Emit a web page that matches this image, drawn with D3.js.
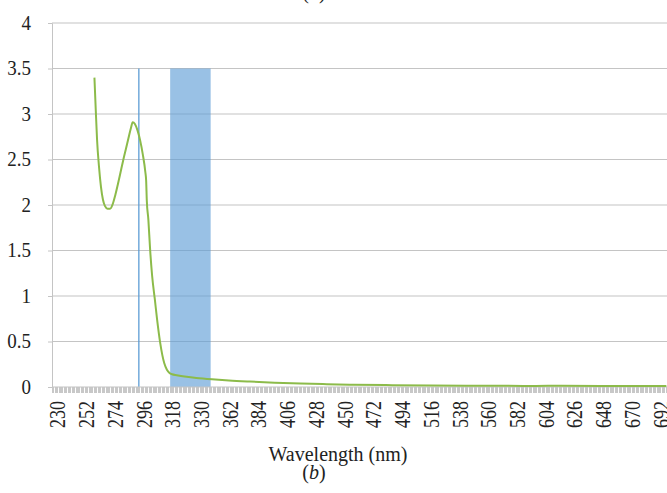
<!DOCTYPE html>
<html>
<head>
<meta charset="utf-8">
<script src="https://cdn.jsdelivr.net/npm/d3@7"></script>
<style>
  html, body { margin: 0; padding: 0; background: #fff; }
  svg { display: block; }
  text { font-family: "Liberation Serif", "Times New Roman", serif; fill: #222; }
</style>
</head>
<body>
<svg id="chart" width="667" height="493"></svg>
<script>
// ---- data ----
const wavelengths = [262, 263, 264, 265.5, 267, 268.5, 270, 272, 274, 276, 278, 280, 282, 284, 286, 288, 290, 291.3, 293, 295, 297, 299, 301, 301.6,
  302.1, 303.3, 304.6, 306.2, 308.2, 310, 312.3, 314, 315.5, 317.5, 319.5, 321.5, 325, 331, 340, 352, 365, 381, 400, 420, 440, 460, 490, 520, 560, 600, 620, 650, 700];
const absorbance = [3.40, 3.05, 2.72, 2.42, 2.20, 2.06, 1.99, 1.96, 1.96, 2.01, 2.11, 2.23, 2.36, 2.49, 2.61, 2.73, 2.85, 2.91, 2.89, 2.82, 2.71, 2.56, 2.36, 2.27,
  2.05, 1.84, 1.52, 1.22, 0.97, 0.74, 0.49, 0.35, 0.26, 0.19, 0.155, 0.14, 0.13, 0.115, 0.10, 0.085, 0.072, 0.06, 0.048, 0.038, 0.031, 0.025, 0.02, 0.016, 0.014, 0.012, 0.013, 0.011, 0.01];
const categoryRange = [230, 700];
const xTickValues = [230, 252, 274, 296, 318, 340, 362, 384, 406, 428, 450, 472, 494, 516, 538, 560, 582, 604, 626, 648, 670, 692];
const xTickLabels = ["230", "252", "274", "296", "318", "330", "362", "384", "406", "428", "450", "472", "494", "516", "538", "560", "582", "604", "626", "648", "670", "692"];
const yTickValues = [0, 0.5, 1, 1.5, 2, 2.5, 3, 3.5, 4];
const markerWavelength = [296];
const bandWavelengths = [320, 351];
const bandTop = [3.5];
const xTitle = "Wavelength (nm)";

// ---- drawing ----
(function () {
const svg = d3.select("#chart");
const mLeft = 52, mRight = 667, mTop = 23, mBottom = 387;
const x = d3.scaleLinear().domain([categoryRange[0] - 0.5, categoryRange[1] + 0.5]).range([mLeft, mRight]);
const y = d3.scaleLinear().domain([0, 4]).range([mBottom, mTop]);

// gridlines
svg.append("g").selectAll("line").data(yTickValues.filter(v => v > 0)).join("line")
  .attr("x1", mLeft).attr("x2", mRight)
  .attr("y1", d => y(d)).attr("y2", d => y(d))
  .attr("stroke", "#c4c4c4").attr("stroke-width", 1.2);

// y axis
const yAxis = svg.append("g").attr("transform", `translate(${mLeft},0)`)
  .call(d3.axisLeft(y).tickValues(yTickValues).tickSize(4).tickPadding(17).tickFormat(d3.format("")));
yAxis.select(".domain").attr("stroke", "#c4c4c4");
yAxis.selectAll(".tick line").attr("stroke", "#c4c4c4");
yAxis.selectAll(".tick text").attr("font-size", 19).attr("font-family", "Liberation Serif").attr("fill", "#222")
  .attr("transform", "scale(1,1.08)").attr("dy", "0.3em");

// band
svg.append("rect")
  .attr("x", x(bandWavelengths[0])).attr("width", x(bandWavelengths[1]) - x(bandWavelengths[0]))
  .attr("y", y(bandTop[0])).attr("height", y(0) - y(bandTop[0]))
  .attr("fill", "#5b9bd5").attr("fill-opacity", 0.62);

// marker line
svg.append("g").selectAll("line").data(markerWavelength).join("line")
  .attr("x1", d => x(d)).attr("x2", d => x(d))
  .attr("y1", y(bandTop[0])).attr("y2", y(0))
  .attr("stroke", "#5b9bd5").attr("stroke-opacity", 0.85).attr("stroke-width", 1.5);

// x axis line and dense category tick marks
const boundaries = d3.range(categoryRange[0] - 0.5, categoryRange[1] + 1, 1);
svg.append("g").selectAll("line").data(boundaries).join("line")
  .attr("x1", d => Math.round(x(d)) + 0.5).attr("x2", d => Math.round(x(d)) + 0.5)
  .attr("y1", mBottom).attr("y2", mBottom + 6)
  .attr("stroke", "#c8c8c8").attr("stroke-width", 1);
svg.append("line").attr("x1", mLeft).attr("x2", mRight).attr("y1", mBottom).attr("y2", mBottom)
  .attr("stroke", "#c4c4c4").attr("stroke-width", 1.2);

// x labels
svg.append("g").selectAll("text").data(xTickValues).join("text")
  .attr("transform", d => `translate(${x(d) + 4.5},${mBottom + 14}) rotate(-90) scale(1,1.3)`)
  .attr("text-anchor", "end").attr("dy", "0.35em")
  .attr("font-size", 18)
  .text((d, i) => xTickLabels[i]);

// data line
const pts = wavelengths.map((w, i) => [w, absorbance[i]]);
svg.append("path").datum(pts)
  .attr("fill", "none").attr("stroke", "#8cbb4a").attr("stroke-width", 2)
  .attr("stroke-linejoin", "round")
  .attr("d", d3.line().x(d => x(d[0])).y(d => y(d[1])).curve(d3.curveMonotoneX));

// titles
svg.append("text").attr("x", 338).attr("y", 461).attr("text-anchor", "middle")
  .attr("font-size", 20).text(xTitle);
const sub = svg.append("text").attr("x", 314).attr("y", 479).attr("text-anchor", "middle").attr("font-size", 20);
sub.append("tspan").text("(");
sub.append("tspan").attr("font-style", "italic").text("b");
sub.append("tspan").text(")");
const supTitle = svg.append("text").attr("x", 314).attr("y", -1).attr("text-anchor", "middle").attr("font-size", 20);
supTitle.append("tspan").text("(");
supTitle.append("tspan").attr("font-style", "italic").text("a");
supTitle.append("tspan").text(")");
})();
</script>
</body>
</html>
